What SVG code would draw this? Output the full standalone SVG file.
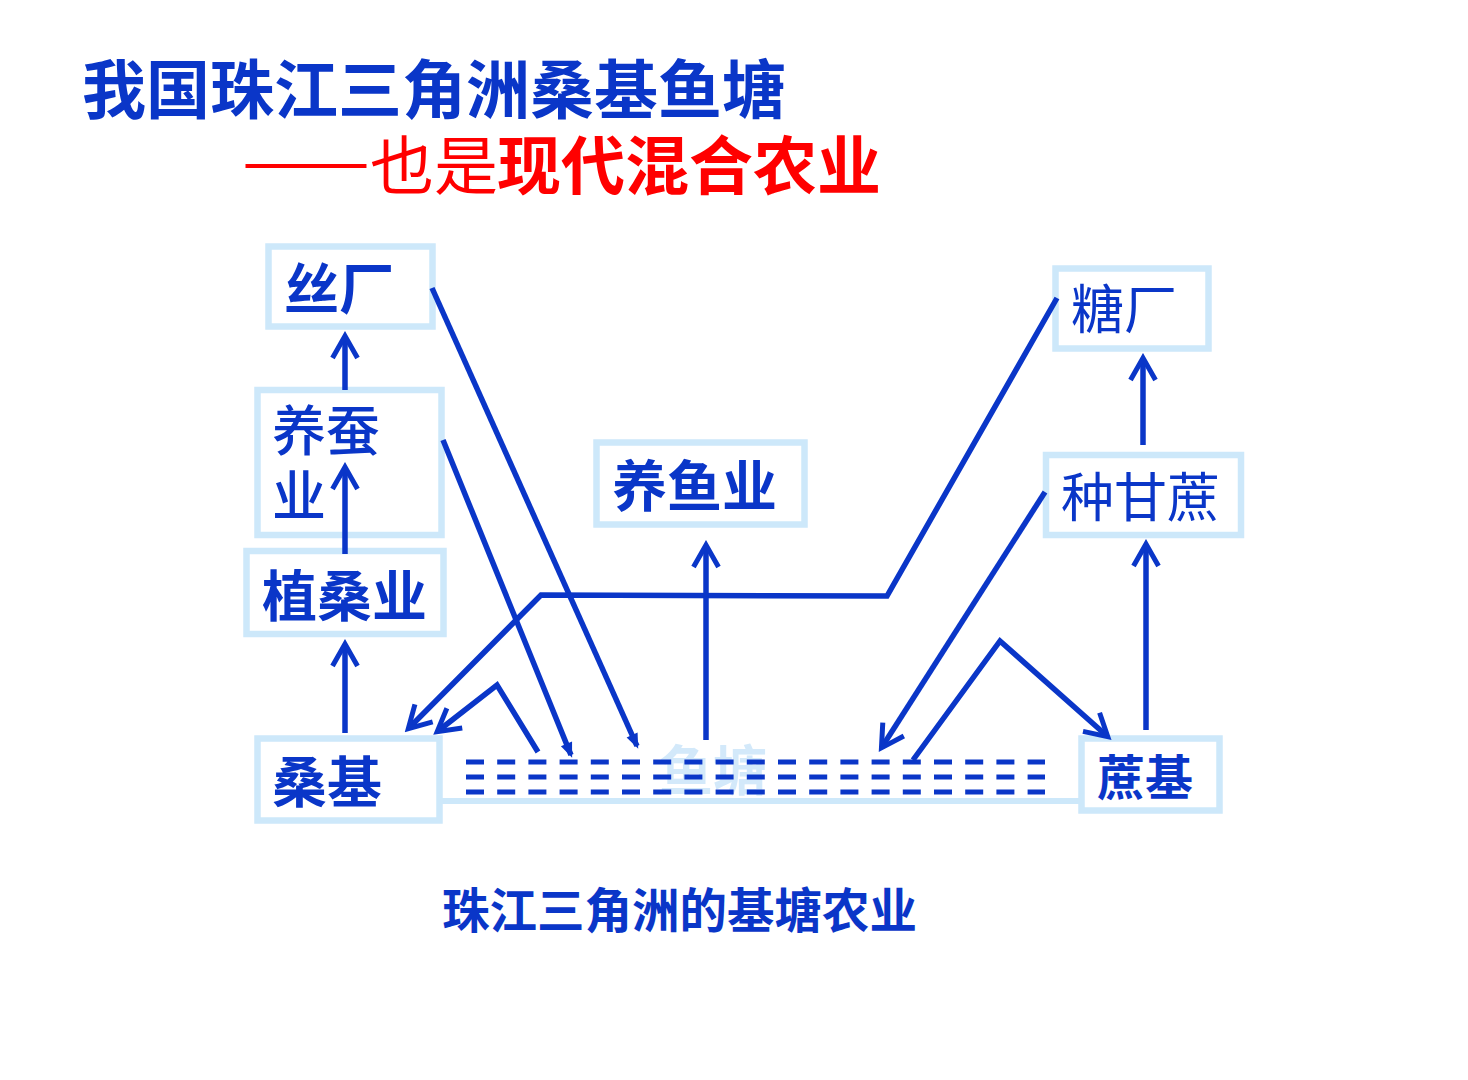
<svg xmlns="http://www.w3.org/2000/svg" width="1468" height="1080" viewBox="0 0 1468 1080">
<style>
.box{fill:#ffffff;stroke:#cde8fa;stroke-width:6.5}
.t{font-family:"Noto Sans CJK SC","Noto Sans",sans-serif;fill:#0a36c8}
.b{font-weight:700}
.m{font-weight:500}
.r{font-weight:400}
.red{fill:#ff0000}
.ln{fill:none;stroke:#0a36c8;stroke-width:5.5;stroke-linejoin:miter}
.dash{stroke:#0a36c8;stroke-width:5;stroke-dasharray:18 13.2}
</style>
<defs>
<marker id="open" markerUnits="userSpaceOnUse" viewBox="-30 -18 36 36" markerWidth="36" markerHeight="36" refX="0" refY="0" orient="auto">
<path d="M-21,-12.5 L1,0 L-21,12.5" fill="none" stroke="#0a36c8" stroke-width="5"/>
</marker>
<marker id="tip" markerUnits="userSpaceOnUse" viewBox="-20 -10 26 20" markerWidth="26" markerHeight="20" refX="0" refY="0" orient="auto">
<path d="M-12,-6 L3,0 L-12,6 z" fill="#0a36c8"/>
</marker>
</defs>
<rect width="1468" height="1080" fill="#ffffff"/>

<g id="title">
<text class="t b" x="82" y="113" font-size="64">我国珠江三角洲桑基鱼塘</text>
<text class="t r red" x="242" y="184" font-size="64" textLength="128" lengthAdjust="spacingAndGlyphs">——</text>
<text class="t r red" x="370" y="189" font-size="64">也是</text>
<text class="t b red" x="497" y="189" font-size="64">现代混合农业</text>
</g>

<g id="pond">
<line x1="435" y1="801" x2="1082" y2="801" stroke="#cde8fa" stroke-width="6"/>
<text class="t b" x="659" y="791" font-size="54" style="fill:#d3e9fa">鱼塘</text>
<line class="dash" x1="466" y1="762" x2="1045" y2="762"/>
<line class="dash" x1="466" y1="777" x2="1045" y2="777"/>
<line class="dash" x1="466" y1="792" x2="1045" y2="792"/>
</g>

<g id="node-sichang">
<rect class="box" x="268.5" y="246.5" width="164" height="80"/>
<text class="t b" x="284" y="309" font-size="55">丝厂</text>
</g>
<g id="node-yangcanye">
<rect class="box" x="257.5" y="390" width="184" height="145"/>
<text class="t m" x="272" y="451" font-size="54">养蚕</text>
<text class="t m" x="272" y="516" font-size="54">业</text>
</g>
<g id="node-zhisangye">
<rect class="box" x="246.5" y="551" width="197" height="83"/>
<text class="t b" x="262" y="616" font-size="55">植桑业</text>
</g>
<g id="node-sangji">
<rect class="box" x="257.5" y="738.5" width="182" height="82"/>
<text class="t b" x="272" y="802" font-size="55">桑基</text>
</g>
<g id="node-yangyuye">
<rect class="box" x="596.5" y="442.5" width="208" height="82"/>
<text class="t b" x="612" y="506" font-size="55">养鱼业</text>
</g>
<g id="node-tangchang">
<rect class="box" x="1055.5" y="268.5" width="153" height="80"/>
<text class="t r" x="1071" y="329" font-size="53">糖厂</text>
</g>
<g id="node-zhongganzhe">
<rect class="box" x="1046" y="455" width="195" height="80"/>
<text class="t r" x="1061" y="517" font-size="53">种甘蔗</text>
</g>
<g id="node-zheji">
<rect class="box" x="1081.5" y="738.5" width="138" height="72"/>
<text class="t b" x="1097" y="795" font-size="48">蔗基</text>
</g>

<g id="connectors">
<line class="ln" x1="345" y1="733" x2="345" y2="645" marker-end="url(#open)"/>
<line class="ln" x1="345" y1="554" x2="345" y2="468" marker-end="url(#open)"/>
<line class="ln" x1="345" y1="390" x2="345" y2="337" marker-end="url(#open)"/>
<line class="ln" x1="432" y1="288" x2="637" y2="746" marker-end="url(#tip)"/>
<line class="ln" x1="443" y1="440" x2="571" y2="755" marker-end="url(#tip)"/>
<polyline class="ln" points="1057,298 887,596 541,595 409,728" marker-end="url(#open)"/>
<polyline class="ln" points="538,752 497,685 438,731" marker-end="url(#open)"/>
<line class="ln" x1="706" y1="740" x2="706" y2="546" marker-end="url(#open)"/>
<line class="ln" x1="1045" y1="492" x2="882" y2="747" marker-end="url(#open)"/>
<polyline class="ln" points="913,760 1000,641 1107,736" marker-end="url(#open)"/>
<line class="ln" x1="1146" y1="730" x2="1146" y2="545" marker-end="url(#open)"/>
<line class="ln" x1="1143" y1="445" x2="1143" y2="359" marker-end="url(#open)"/>
</g>

<g id="caption">
<text class="t b" x="442" y="928" font-size="47.5">珠江三角洲的基塘农业</text>
</g>
</svg>
